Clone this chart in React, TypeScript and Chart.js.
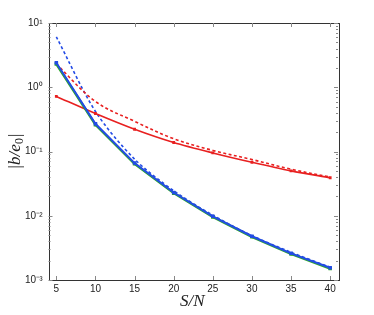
import React, { useEffect, useRef } from "react";
import { Chart, registerables } from "chart.js";

Chart.register(...registerables);

const X_VALUES = [5, 10, 15, 20, 25, 30, 35, 40];
const X_TICKS = [5, 10, 15, 20, 25, 30, 35, 40];
const Y_DECADES = [-3, -2, -1, 0, 1];

const RED_SOLID = [0.72, 0.39, 0.222, 0.138, 0.095, 0.068, 0.05, 0.039];
const RED_DASHED = [2.3, 0.6, 0.295, 0.158, 0.104, 0.075, 0.053, 0.04];
const BLUE_SOLID = [2.4, 0.27, 0.066, 0.023, 0.0098, 0.0048, 0.0026, 0.00155];
const GREEN_SOLID = [2.3, 0.262, 0.0645, 0.0225, 0.0096, 0.0047, 0.00254, 0.00151];
const BLUE_DASHED = [6.1, 0.42, 0.076, 0.0245, 0.0102, 0.0049, 0.0027, 0.00158];

const RED = "rgb(232,32,32)";
const BLUE = "rgb(35,75,230)";
const GREEN = "rgb(45,165,45)";

const SUP: Record<string, string> = {
  "-": "\u207B",
  "0": "\u2070",
  "1": "\u00B9",
  "2": "\u00B2",
  "3": "\u00B3",
};

function pts(ys: number[]) {
  return X_VALUES.map((x, i) => ({ x, y: ys[i] }));
}

const framePlugin = {
  id: "frame",
  afterDraw(chart: any) {
    const { ctx, chartArea } = chart;
    const { left, right, top, bottom } = chartArea;
    const xs = chart.scales.x;
    const ys = chart.scales.y;
    ctx.save();
    ctx.strokeStyle = "#333";
    ctx.lineWidth = 1;
    ctx.strokeRect(Math.round(left) + 0.5, Math.round(top) + 0.5, Math.round(right - left), Math.round(bottom - top));
    ctx.strokeStyle = "#888";
    ctx.beginPath();
    X_TICKS.forEach((v) => {
      const px = Math.round(xs.getPixelForValue(v)) + 0.5;
      ctx.moveTo(px, bottom);
      ctx.lineTo(px, bottom - 4);
      ctx.moveTo(px, top);
      ctx.lineTo(px, top + 4);
    });
    Y_DECADES.forEach((e) => {
      const py = Math.round(ys.getPixelForValue(Math.pow(10, e))) + 0.5;
      ctx.moveTo(left, py);
      ctx.lineTo(left + 4, py);
      ctx.moveTo(right, py);
      ctx.lineTo(right - 4, py);
      if (e < 1) {
        for (let k = 2; k <= 9; k++) {
          const pm = Math.round(ys.getPixelForValue(k * Math.pow(10, e))) + 0.5;
          ctx.moveTo(left, pm);
          ctx.lineTo(left + 2, pm);
          ctx.moveTo(right, pm);
          ctx.lineTo(right - 2, pm);
        }
      }
    });
    ctx.stroke();

    // axis titles
    ctx.fillStyle = "#222";
    ctx.font = 'italic 17px "Liberation Serif"';
    ctx.textAlign = "center";
    ctx.textBaseline = "alphabetic";
    ctx.fillText("S/N", (left + right) / 2 - 1, 306);

    ctx.translate(20, (top + bottom) / 2);
    ctx.rotate(-Math.PI / 2);
    const big = 'italic 17px "Liberation Serif"';
    const small = '12px "Liberation Serif"';
    ctx.font = big;
    const w1 = ctx.measureText("|b/e").width;
    const w3 = ctx.measureText("|").width;
    ctx.font = small;
    const w2 = ctx.measureText("0").width;
    const total = w1 + w2 + w3;
    let x0 = -total / 2;
    ctx.textAlign = "left";
    ctx.font = big;
    ctx.fillText("|b/e", x0, 0);
    x0 += w1;
    ctx.font = small;
    ctx.fillText("0", x0, 3);
    x0 += w2;
    ctx.font = big;
    ctx.fillText("|", x0, 0);
    ctx.restore();
  },
};

export default function App() {
  const ref = useRef<HTMLCanvasElement | null>(null);
  useEffect(() => {
    if (!ref.current) return;
    const chart = new Chart(ref.current, {
      type: "line",
      data: {
        datasets: [
          {
            data: pts(RED_DASHED),
            borderColor: RED,
            borderWidth: 1.6,
            borderDash: [3, 2.5],
            pointRadius: 0,
            tension: 0.35,
            order: 3,
          },
          {
            data: pts(BLUE_DASHED),
            borderColor: BLUE,
            borderWidth: 1.6,
            borderDash: [3, 2.5],
            pointRadius: 0,
            tension: 0.3,
            order: 4,
          },
          {
            data: pts(RED_SOLID),
            borderColor: RED,
            backgroundColor: RED,
            borderWidth: 1.6,
            pointStyle: "rect",
            pointRadius: 2,
            pointBorderWidth: 0,
            tension: 0.3,
            order: 2,
          },
          {
            data: pts(GREEN_SOLID),
            borderColor: GREEN,
            backgroundColor: GREEN,
            borderWidth: 2.4,
            pointStyle: "rect",
            pointRadius: 2.5,
            pointBorderWidth: 0,
            order: 1,
          },
          {
            data: pts(BLUE_SOLID),
            borderColor: BLUE,
            backgroundColor: BLUE,
            borderWidth: 2,
            pointStyle: "rect",
            pointRadius: 2.5,
            pointBorderWidth: 0,
            order: 0,
          },
        ],
      },
      options: {
        animation: false,
        responsive: true,
        maintainAspectRatio: false,
        layout: { padding: { top: 23, right: 36, left: 0, bottom: 0 } },
        plugins: {
          legend: { display: false },
          tooltip: { enabled: false },
        },
        scales: {
          x: {
            type: "linear",
            min: 4,
            max: 41,
            grid: { display: false, drawTicks: false },
            border: { display: false },
            afterBuildTicks: (scale: any) => {
              scale.ticks = X_TICKS.map((v) => ({ value: v }));
            },
            afterFit: (scale: any) => {
              scale.height = 35;
            },
            ticks: {
              padding: 3,
              color: "#222",
              font: { family: '"Liberation Sans"', size: 10 },
              maxRotation: 0,
              autoSkip: false,
            },
          },
          y: {
            type: "logarithmic",
            min: 1e-3,
            max: 10,
            grid: { display: false, drawTicks: false },
            border: { display: false },
            afterBuildTicks: (scale: any) => {
              scale.ticks = Y_DECADES.map((e) => ({ value: Math.pow(10, e) }));
            },
            afterFit: (scale: any) => {
              scale.width = 48.5;
            },
            ticks: {
              padding: 6,
              color: "#222",
              font: { family: '"Liberation Sans"', size: 10 },
              autoSkip: false,
              callback: (v: any) => {
                const e = Math.round(Math.log10(Number(v)));
                return "10" + String(e).split("").map((c) => SUP[c] || c).join("");
              },
            },
          },
        },
      },
      plugins: [framePlugin],
    });
    return () => chart.destroy();
  }, []);
  return (
    <div style={{ position: "fixed", left: 0, top: 0, width: 374, height: 315, background: "#fff" }}>
      <canvas ref={ref} />
    </div>
  );
}
